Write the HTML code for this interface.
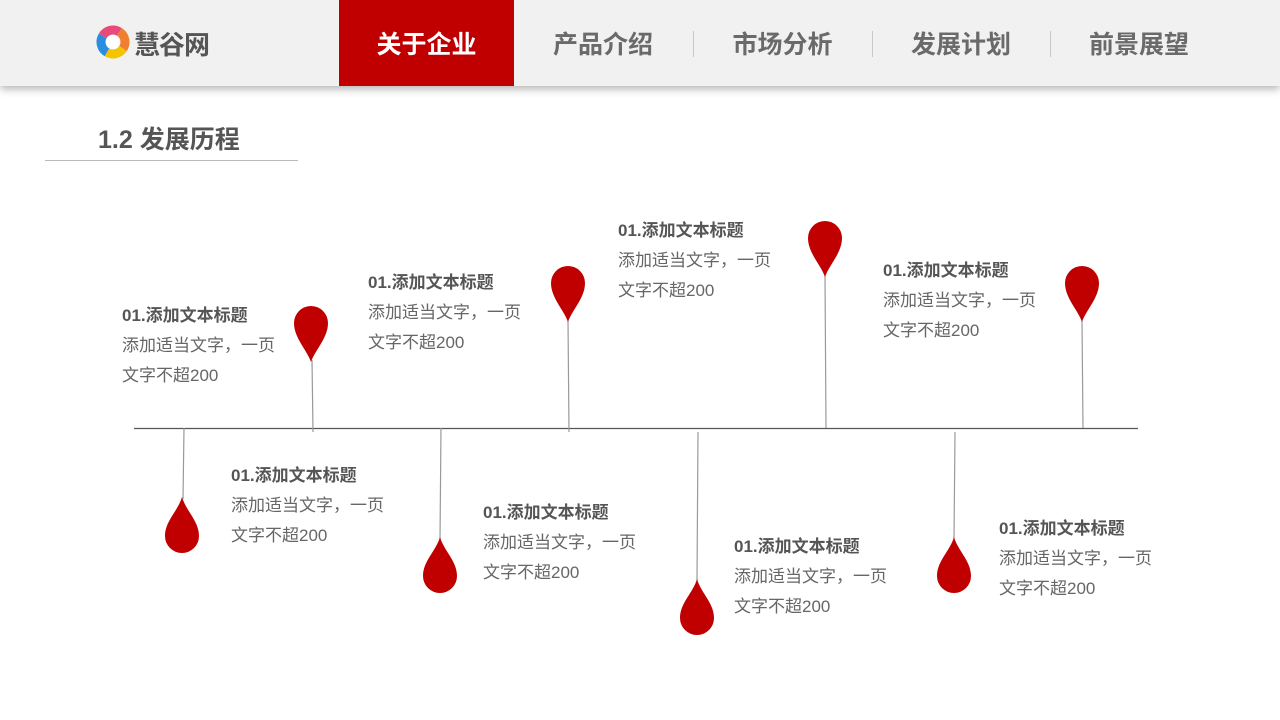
<!DOCTYPE html>
<html><head><meta charset="utf-8"><style>
body{margin:0;width:1280px;height:720px;background:#fff;position:relative;overflow:hidden;font-family:"Liberation Sans","Noto Sans CJK SC",sans-serif;}
.hdr{position:absolute;left:0;top:0;width:1280px;height:86px;background:#f1f1f1;box-shadow:0 3px 8px rgba(0,0,0,.3);}
.nav{position:absolute;top:0;height:86px;line-height:90px;font-size:25px;font-weight:bold;color:#6a6a6a;text-align:center;}
.div{position:absolute;top:31px;width:1px;height:26px;background:#c8c8c8;}
.t{position:absolute;font-size:17px;color:#666;line-height:30px;}
.t b{color:#555;font-size:17px;}
</style></head><body>
<div class="hdr">
<svg style="position:absolute;left:96px;top:25px" width="34" height="34" viewBox="0 0 34 34">
<g transform="rotate(120 17 17)">
<circle cx="17" cy="17" r="12" fill="none" stroke="#2a8de0" stroke-width="9" stroke-dasharray="19 57" stroke-dashoffset="0"/>
<circle cx="17" cy="17" r="12" fill="none" stroke="#e84a7a" stroke-width="9" stroke-dasharray="19 57" stroke-dashoffset="-19"/>
<circle cx="17" cy="17" r="12" fill="none" stroke="#f08030" stroke-width="9" stroke-dasharray="19 57" stroke-dashoffset="-38"/>
<circle cx="17" cy="17" r="12" fill="none" stroke="#f5c400" stroke-width="9" stroke-dasharray="19 57" stroke-dashoffset="-57"/>
</g>
<circle cx="17" cy="17" r="7" fill="#fff"/>
</svg>
<div style="position:absolute;left:134px;top:25px;font-size:26px;font-weight:bold;color:#555;letter-spacing:-1px">慧谷网</div>
<div class="nav" style="left:339px;width:175px;background:#c00000;color:#fff">关于企业</div>
<div class="nav" style="left:514px;width:178px">产品介绍</div>
<div class="div" style="left:693px"></div>
<div class="nav" style="left:693px;width:179px">市场分析</div>
<div class="div" style="left:872px"></div>
<div class="nav" style="left:872px;width:178px">发展计划</div>
<div class="div" style="left:1050px"></div>
<div class="nav" style="left:1050px;width:178px">前景展望</div>
</div>
<div style="position:absolute;left:98px;top:120px;font-size:25px;font-weight:bold;color:#555">1.2 发展历程</div>
<div style="position:absolute;left:45px;top:160px;width:253px;height:1px;background:#bbb"></div>
<svg style="position:absolute;left:0;top:0" width="1280" height="720">
<line x1="134" y1="428.5" x2="1138" y2="428.5" stroke="#555" stroke-width="1.2"/>
<g stroke="#999" stroke-width="1.2">
<line x1="312" y1="360" x2="313" y2="432"/><line x1="568" y1="320" x2="569" y2="432"/>
<line x1="825" y1="275" x2="826" y2="428"/><line x1="1082" y1="320" x2="1083" y2="428"/>
<line x1="184" y1="428" x2="183" y2="499"/><line x1="441" y1="428" x2="440" y2="539"/>
<line x1="698" y1="432" x2="697" y2="581"/><line x1="955" y1="432" x2="954" y2="539"/>
</g>
<g fill="#c00000">
<path d="M0,56 C-4,44 -17,32 -17,17 A17,17 0 0 1 17,17 C17,32 4,44 0,56 Z" transform="translate(311,306)"/>
<path d="M0,56 C-4,44 -17,32 -17,17 A17,17 0 0 1 17,17 C17,32 4,44 0,56 Z" transform="translate(568,266)"/>
<path d="M0,56 C-4,44 -17,32 -17,17 A17,17 0 0 1 17,17 C17,32 4,44 0,56 Z" transform="translate(825,221)"/>
<path d="M0,56 C-4,44 -17,32 -17,17 A17,17 0 0 1 17,17 C17,32 4,44 0,56 Z" transform="translate(1082,266)"/>
<path d="M0,0 C-4,14 -17,24 -17,39 A17,17 0 0 0 17,39 C17,24 4,14 0,0 Z" transform="translate(182,497)"/>
<path d="M0,0 C-4,14 -17,24 -17,39 A17,17 0 0 0 17,39 C17,24 4,14 0,0 Z" transform="translate(440,537)"/>
<path d="M0,0 C-4,14 -17,24 -17,39 A17,17 0 0 0 17,39 C17,24 4,14 0,0 Z" transform="translate(697,579)"/>
<path d="M0,0 C-4,14 -17,24 -17,39 A17,17 0 0 0 17,39 C17,24 4,14 0,0 Z" transform="translate(954,537)"/>
</g>
</svg>
<div class="t" style="left:122px;top:301px"><b>01.添加文本标题</b><br>添加适当文字，一页<br>文字不超200</div>
<div class="t" style="left:368px;top:268px"><b>01.添加文本标题</b><br>添加适当文字，一页<br>文字不超200</div>
<div class="t" style="left:618px;top:216px"><b>01.添加文本标题</b><br>添加适当文字，一页<br>文字不超200</div>
<div class="t" style="left:883px;top:256px"><b>01.添加文本标题</b><br>添加适当文字，一页<br>文字不超200</div>
<div class="t" style="left:231px;top:461px"><b>01.添加文本标题</b><br>添加适当文字，一页<br>文字不超200</div>
<div class="t" style="left:483px;top:498px"><b>01.添加文本标题</b><br>添加适当文字，一页<br>文字不超200</div>
<div class="t" style="left:734px;top:532px"><b>01.添加文本标题</b><br>添加适当文字，一页<br>文字不超200</div>
<div class="t" style="left:999px;top:514px"><b>01.添加文本标题</b><br>添加适当文字，一页<br>文字不超200</div>
</body></html>
